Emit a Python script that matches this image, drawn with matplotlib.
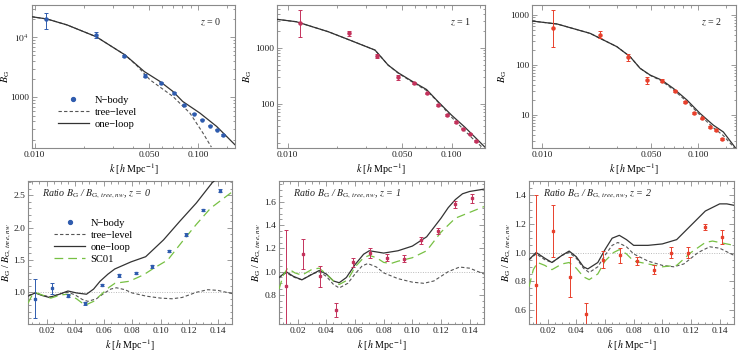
import matplotlib
matplotlib.use('Agg')
import matplotlib.pyplot as plt
from matplotlib.lines import Line2D
from matplotlib.ticker import FixedLocator, FixedFormatter, NullFormatter, MultipleLocator

plt.rcParams['font.family'] = ['Liberation Serif', 'DejaVu Serif']
plt.rcParams['mathtext.fontset'] = 'stix'

# ---------------- data ----------------
k_bins = [0.0118, 0.0236, 0.0353, 0.0471, 0.0589, 0.0707, 0.0824, 0.0942, 0.106, 0.1178, 0.1296, 0.1413]

# top row: B_G measurements with lower / upper error bar ends
bg_z0 = [19900, 10900, 4900, 2290, 1730, 1180, 757, 537, 427, 340, 292, 238]
bg_z0_lo = [13600, 9850, 4650, 2170, 1670, 1140, 732, 522, 417, 332, 286, 233]
bg_z0_hi = [25500, 12100, 5150, 2410, 1790, 1220, 782, 552, 437, 348, 298, 243]
bg_z1 = [2810, 1810, 710, 294, 235, 152, 94, 62, 47, 35.7, 29, 21.4]
bg_z1_lo = [1575, 1620, 650, 262, 223, 146, 91, 60, 45.5, 34.7, 28, 20.6]
bg_z1_hi = [4750, 2010, 770, 330, 247, 158, 97, 64, 48.5, 36.7, 30, 22.2]
bg_z2 = [541, 398, 142, 50, 48.6, 30.7, 18.5, 11.1, 8.6, 5.8, 5.0, 3.4]
bg_z2_lo = [232, 340, 118, 42, 45.6, 29.2, 17.7, 10.7, 8.25, 5.6, 4.8, 3.25]
bg_z2_hi = [1260, 470, 170, 59, 51.6, 32.2, 19.3, 11.5, 8.95, 6.0, 5.2, 3.55]

# top row: model curves
k_top_z0 = [0.0096, 0.0119, 0.0158, 0.0238, 0.0357, 0.0421, 0.0469, 0.0585, 0.0701, 0.0805, 0.1024, 0.1297, 0.1675]
oneloop_top_z0 = [21900, 20100, 16000, 10200, 5090, 3470, 2690, 1840, 1260, 858, 552, 331, 165]
k_tree_top_z0 = [0.0096, 0.0119, 0.0158, 0.0238, 0.0357, 0.0421, 0.0508, 0.0701, 0.089, 0.107, 0.1205]
tree_top_z0 = [21900, 20100, 16000, 10200, 5090, 3400, 1960, 1040, 552, 257, 150]

k_top_z1 = [0.0086, 0.0113, 0.0177, 0.0234, 0.0341, 0.041, 0.0473, 0.0583, 0.0703, 0.0831, 0.1, 0.1203, 0.1452, 0.1594]
oneloop_top_z1 = [3240, 2930, 1940, 1410, 910, 490, 356, 245, 179, 107, 62, 38, 22, 16.7]
k_tree_top_z1 = [0.0086, 0.0113, 0.0177, 0.0234, 0.0341, 0.041, 0.0473, 0.0583, 0.0703, 0.08, 0.09, 0.1, 0.12, 0.14, 0.156]
tree_top_z1 = [3240, 2930, 1940, 1410, 910, 490, 350, 238, 172, 118, 82, 57, 33, 21, 16]

k_top_z2 = [0.0086, 0.0125, 0.0203, 0.0301, 0.0366, 0.0424, 0.0492, 0.0583, 0.0693, 0.0845, 0.1025, 0.1246, 0.1444, 0.1738]
oneloop_top_z2 = [759, 661, 430, 233, 147, 86, 63, 50, 34, 20, 10.8, 6.3, 4.6, 2.15]
k_tree_top_z2 = [0.0086, 0.0125, 0.0203, 0.0301, 0.0366, 0.0424, 0.0492, 0.0583, 0.0693, 0.0845, 0.1025, 0.1246, 0.1444, 0.17]
tree_top_z2 = [759, 661, 430, 233, 147, 86, 62, 48, 32, 18.5, 10.0, 5.6, 3.9, 2.2]

# bottom row: ratio measurements
ratio_z0 = [0.90, 1.06, 0.95, 0.83, 1.11, 1.26, 1.30, 1.40, 1.64, 1.89, 2.27, 2.57]
ratio_z0_err = [0.30, 0.08, 0.03, 0.02, 0.02, 0.02, 0.02, 0.02, 0.02, 0.02, 0.02, 0.02]
ratio_z1 = [0.88, 1.15, 0.96, 0.67, 1.08, 1.16, 1.12, 1.11, 1.27, 1.35, 1.58, 1.63]
ratio_z1_err = [0.48, 0.13, 0.09, 0.06, 0.04, 0.04, 0.03, 0.03, 0.03, 0.03, 0.03, 0.04]
ratio_z2 = [0.77, 1.15, 0.83, 0.57, 0.95, 0.98, 0.94, 0.88, 1.00, 1.00, 1.18, 1.11]
ratio_z2_err = [0.63, 0.18, 0.14, 0.08, 0.06, 0.05, 0.03, 0.03, 0.04, 0.04, 0.02, 0.05]

# bottom row: model ratio curves
k_tree_ratio = [0.007, 0.012, 0.018, 0.023, 0.030, 0.035, 0.040, 0.045, 0.049, 0.055, 0.060, 0.065, 0.069, 0.075, 0.080, 0.090, 0.100, 0.108, 0.115, 0.125, 0.133, 0.140, 0.150]
tree_ratio = [0.95, 0.99, 0.95, 0.93, 0.98, 1.00, 0.96, 0.89, 0.86, 0.90, 0.98, 1.05, 1.07, 1.04, 0.99, 0.94, 0.91, 0.90, 0.92, 1.00, 1.04, 1.03, 0.98]

k_ol_z0 = [0.007, 0.012, 0.017, 0.022, 0.029, 0.035, 0.041, 0.048, 0.053, 0.0575, 0.063, 0.0678, 0.0792, 0.0895, 0.102, 0.1135, 0.125, 0.136, 0.139]
oneloop_z0 = [0.94, 0.99, 0.95, 0.92, 0.97, 1.02, 0.99, 0.97, 1.05, 1.17, 1.28, 1.36, 1.47, 1.55, 1.81, 2.10, 2.38, 2.69, 2.75]
k_sc_z0 = [0.007, 0.010, 0.013, 0.018, 0.023, 0.030, 0.035, 0.041, 0.047, 0.053, 0.058, 0.064, 0.068, 0.078, 0.088, 0.095, 0.105, 0.115, 0.125, 0.135, 0.150]
sc01_z0 = [0.83, 0.96, 0.99, 0.95, 0.91, 0.96, 0.97, 0.90, 0.80, 0.86, 0.96, 1.08, 1.14, 1.17, 1.27, 1.37, 1.50, 1.78, 2.05, 2.30, 2.55]

k_ol_z1 = [0.007, 0.012, 0.017, 0.023, 0.029, 0.035, 0.040, 0.045, 0.049, 0.054, 0.060, 0.066, 0.070, 0.075, 0.080, 0.090, 0.100, 0.110, 0.115, 0.120, 0.125, 0.130, 0.135, 0.140, 0.150]
oneloop_z1 = [0.95, 1.00, 0.96, 0.93, 0.97, 1.01, 0.98, 0.92, 0.905, 0.95, 1.06, 1.15, 1.18, 1.17, 1.16, 1.18, 1.22, 1.30, 1.38, 1.46, 1.55, 1.62, 1.67, 1.69, 1.71]
k_sc_z1 = [0.007, 0.010, 0.013, 0.018, 0.023, 0.030, 0.035, 0.040, 0.045, 0.049, 0.055, 0.060, 0.066, 0.070, 0.075, 0.080, 0.085, 0.090, 0.100, 0.110, 0.120, 0.130, 0.140, 0.150]
sc01_z1 = [0.85, 0.97, 1.03, 0.99, 0.97, 1.02, 1.03, 0.98, 0.92, 0.89, 0.93, 1.04, 1.12, 1.14, 1.12, 1.08, 1.07, 1.09, 1.12, 1.18, 1.34, 1.46, 1.51, 1.56]

k_ol_z2 = [0.007, 0.012, 0.018, 0.023, 0.030, 0.035, 0.040, 0.045, 0.048, 0.055, 0.060, 0.065, 0.070, 0.075, 0.080, 0.090, 0.100, 0.110, 0.120, 0.130, 0.140, 0.145, 0.150]
oneloop_z2 = [0.95, 1.00, 0.96, 0.93, 0.98, 1.01, 0.97, 0.90, 0.885, 0.93, 1.02, 1.10, 1.12, 1.09, 1.05, 1.05, 1.06, 1.09, 1.19, 1.29, 1.34, 1.34, 1.33]
k_sc_z2 = [0.007, 0.010, 0.013, 0.018, 0.023, 0.030, 0.035, 0.040, 0.045, 0.049, 0.055, 0.060, 0.066, 0.070, 0.075, 0.080, 0.090, 0.100, 0.110, 0.120, 0.130, 0.135, 0.140, 0.150]
sc01_z2 = [0.76, 0.88, 0.93, 0.91, 0.88, 0.92, 0.93, 0.89, 0.83, 0.81, 0.85, 0.94, 1.00, 1.02, 0.99, 0.94, 0.92, 0.90, 0.91, 1.00, 1.07, 1.08, 1.07, 1.05]

redshifts = ['0', '1', '2']
point_colors = ['#2f5cae', '#c4325c', '#e8402c']
bot_ytick_values = [[1.0, 1.5, 2.0, 2.5], [0.8, 1.0, 1.2, 1.4, 1.6], [0.6, 0.8, 1.0, 1.2, 1.4]]

# ---------------- figure ----------------
W, H = 740, 355
fig = plt.figure(figsize=(W / 100, H / 100), dpi=100)


def add_axes_px(x0, x1, y0, y1):
    return fig.add_axes([x0 / W, (H - y1) / H, (x1 - x0) / W, (y1 - y0) / H])


FRAME = '#8a8a8a'
LINE = '#333333'
TREE = '#555555'
GREEN = '#77c043'
FS = 6.8


def style(ax):
    for s in ax.spines.values():
        s.set_color(FRAME)
        s.set_linewidth(0.8)
    ax.tick_params(which='both', direction='in', top=True, right=True, colors=FRAME,
                   labelcolor='#222222', labelsize=FS, width=0.6, pad=2)
    ax.tick_params(which='major', length=3.5)
    ax.tick_params(which='minor', length=1.8)


top_px = [(32, 235), (277, 485), (532, 736)]
bot_px = [(28, 232), (279, 484), (529, 734)]
top_xlim = [(0.00964, 0.168), (0.0086, 0.16), (0.00863, 0.174)]
top_ylim = [(145, 34300), (16, 5850), (2.2, 1585)]
top_data = [(bg_z0, bg_z0_lo, bg_z0_hi), (bg_z1, bg_z1_lo, bg_z1_hi), (bg_z2, bg_z2_lo, bg_z2_hi)]
top_ol = [(k_top_z0, oneloop_top_z0), (k_top_z1, oneloop_top_z1), (k_top_z2, oneloop_top_z2)]
top_tree = [(k_tree_top_z0, tree_top_z0), (k_tree_top_z1, tree_top_z1), (k_tree_top_z2, tree_top_z2)]
top_yticks = [([1000, 10000], ['1000', r'$10^4$']), ([100, 1000], ['100', '1000']), ([10, 100, 1000], ['10', '100', '1000'])]

xlabel = r'$k$ [$h$ Mpc$^{-1}$]'

for i in range(3):
    ax = add_axes_px(top_px[i][0], top_px[i][1], 5, 148)
    style(ax)
    ax.set_xscale('log')
    ax.set_yscale('log')
    ax.plot(top_tree[i][0], top_tree[i][1], ls=(0, (3, 2)), color=TREE, lw=0.8, zorder=2)
    ax.plot(top_ol[i][0], top_ol[i][1], color=LINE, lw=0.9, zorder=3)
    v, lo, hi = top_data[i]
    yerr = [[a - b for a, b in zip(v, lo)], [c - a for a, c in zip(v, hi)]]
    ax.errorbar(k_bins, v, yerr=yerr, fmt='o', ms=2.2, color=point_colors[i],
                elinewidth=0.7, capsize=1.5, capthick=0.7, zorder=4)
    ax.set_xlim(*top_xlim[i])
    ax.set_ylim(*top_ylim[i])
    ax.xaxis.set_major_locator(FixedLocator([0.01, 0.05, 0.1]))
    ax.xaxis.set_major_formatter(FixedFormatter(['0.010', '0.050', '0.100']))
    ax.xaxis.set_minor_locator(FixedLocator([0.02, 0.03, 0.04, 0.06, 0.07, 0.08, 0.09, 0.15]))
    ax.xaxis.set_minor_formatter(NullFormatter())
    yt, yl = top_yticks[i]
    ax.yaxis.set_major_locator(FixedLocator(yt))
    ax.yaxis.set_major_formatter(FixedFormatter(yl))
    minors = [m * d for d in [1, 10, 100, 1000, 10000] for m in range(2, 10)]
    ax.yaxis.set_minor_locator(FixedLocator(minors))
    ax.yaxis.set_minor_formatter(NullFormatter())
    ax.set_xlabel(xlabel, fontsize=FS + 0.4, labelpad=2)
    ax.set_ylabel(r'$B_{\rm G}$', fontsize=FS + 0.4, labelpad=1)
    if i == 0:
        ax.yaxis.set_label_coords(-0.098, 0.5)
    ax.text(0.88, 0.88, r'$z$ = ' + redshifts[i], transform=ax.transAxes, fontsize=FS + 0.4,
            ha='center', va='center', color='#222222')
    if i == 0:
        handles = [Line2D([], [], ls='none', marker='o', ms=2.8, color=point_colors[0]),
                   Line2D([], [], ls=(0, (3, 2)), color=TREE, lw=0.8),
                   Line2D([], [], color=LINE, lw=0.9)]
        ax.legend(handles, ['N\u2212body', 'tree\u2212level', 'one\u2212loop'], loc='upper left',
                  bbox_to_anchor=(0.09, 0.42), frameon=False, fontsize=FS + 0.8,
                  handlelength=3.0, handletextpad=0.5, labelspacing=0.25, borderpad=0.2)

bot_ylim = [(0.51, 2.72), (0.55, 1.78), (0.5, 1.5)]
bot_data = [(ratio_z0, ratio_z0_err), (ratio_z1, ratio_z1_err), (ratio_z2, ratio_z2_err)]
bot_ol = [(k_ol_z0, oneloop_z0), (k_ol_z1, oneloop_z1), (k_ol_z2, oneloop_z2)]
bot_sc = [(k_sc_z0, sc01_z0), (k_sc_z1, sc01_z1), (k_sc_z2, sc01_z2)]
bot_minor = [0.1, 0.05, 0.05]

for i in range(3):
    ax = add_axes_px(bot_px[i][0], bot_px[i][1], 181, 324)
    style(ax)
    ax.axhline(1.0, color='#bbbbbb', ls=(0, (1, 1.5)), lw=0.7, zorder=1)
    ax.plot(k_tree_ratio, tree_ratio, ls=(0, (3, 2)), color=TREE, lw=0.8, zorder=2)
    ax.plot(bot_ol[i][0], bot_ol[i][1], color=LINE, lw=0.9, zorder=3)
    ax.plot(bot_sc[i][0], bot_sc[i][1], ls=(0, (7, 4)), color=GREEN, lw=0.9, zorder=3)
    ax.errorbar(k_bins, bot_data[i][0], yerr=bot_data[i][1], fmt='s', ms=1.8, color=point_colors[i],
                elinewidth=0.7, capsize=1.5, capthick=0.7, zorder=4)
    ax.set_xlim(0.007, 0.15)
    ax.set_ylim(*bot_ylim[i])
    ax.xaxis.set_major_locator(FixedLocator([0.02, 0.04, 0.06, 0.08, 0.10, 0.12, 0.14]))
    ax.xaxis.set_major_formatter(FixedFormatter(['0.02', '0.04', '0.06', '0.08', '0.10', '0.12', '0.14']))
    ax.xaxis.set_minor_locator(MultipleLocator(0.005))
    ax.yaxis.set_major_locator(FixedLocator(bot_ytick_values[i]))
    ax.yaxis.set_minor_locator(MultipleLocator(bot_minor[i]))
    ax.yaxis.set_major_formatter(plt.FuncFormatter(lambda v, p: f'{v:.1f}'))
    ax.set_xlabel(xlabel, fontsize=FS + 0.4, labelpad=2)
    ax.set_ylabel(r'$B_{\rm G}$ / $B_{\mathrm{G},\,\mathit{tree},\,\mathit{nw}}$', fontsize=FS + 0.4, labelpad=1)
    if i == 0:
        ax.yaxis.set_label_coords(-0.072, 0.5)
    ax.text(0.07, 0.91, r'Ratio $B_{\rm G}$ / $B_{\mathrm{G},\,\mathit{tree},\,\mathit{nw}}$, $z$ = ' + redshifts[i],
            transform=ax.transAxes, fontsize=FS + 0.4, style='italic', ha='left', va='center', color='#222222')
    if i == 0:
        handles = [Line2D([], [], ls='none', marker='o', ms=2.8, color=point_colors[0]),
                   Line2D([], [], ls=(0, (3, 2)), color=TREE, lw=0.8),
                   Line2D([], [], color=LINE, lw=0.9),
                   Line2D([], [], ls=(0, (7, 4)), color=GREEN, lw=0.9)]
        ax.legend(handles, ['N\u2212body', 'tree\u2212level', 'one\u2212loop', 'SC01'], loc='upper left',
                  bbox_to_anchor=(0.09, 0.79), frameon=False, fontsize=FS + 0.8,
                  handlelength=3.0, handletextpad=0.5, labelspacing=0.25, borderpad=0.2)

fig.savefig('out.png', dpi=100)
